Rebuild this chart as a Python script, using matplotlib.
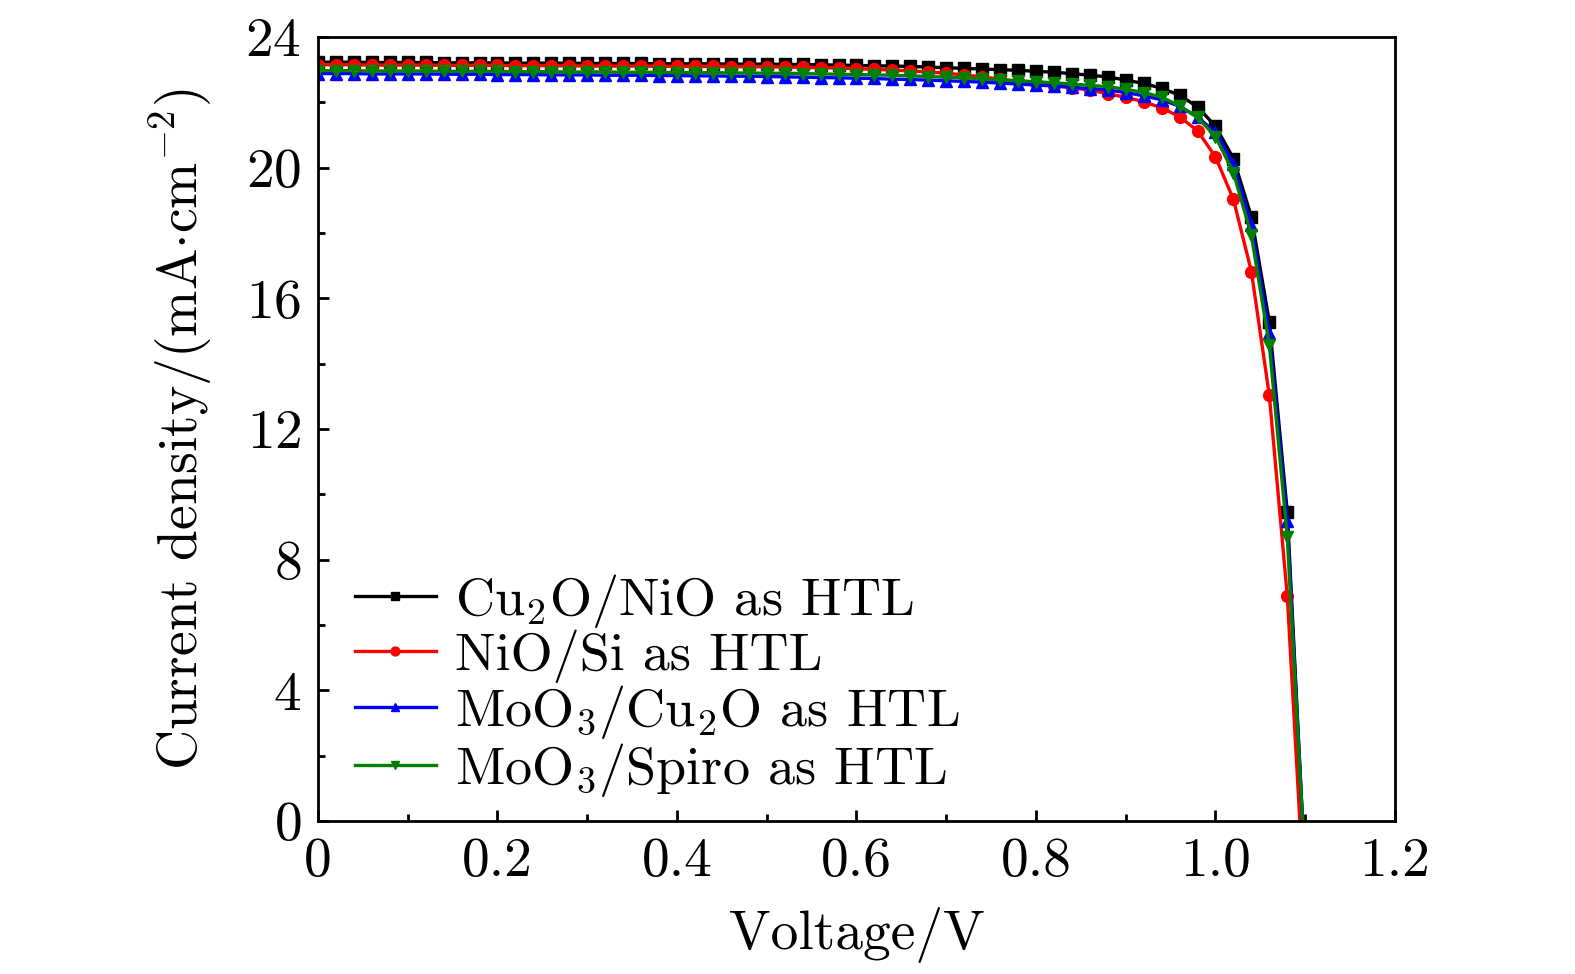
import numpy as np
import matplotlib
matplotlib.use('Agg')
import matplotlib.pyplot as plt
from matplotlib.ticker import MultipleLocator, FixedLocator, FixedFormatter

# =============================================================================
# Datos (J-V, paso de 0.02 V y Voc al final)
# =============================================================================
voltaje = [round(0.02 * i, 2) for i in range(55)]

j_cu2o_nio = [23.23, 23.23, 23.23, 23.22, 23.22, 23.22, 23.22, 23.21, 23.21, 23.21,
              23.21, 23.20, 23.20, 23.20, 23.20, 23.19, 23.19, 23.19, 23.19, 23.18,
              23.18, 23.18, 23.18, 23.17, 23.17, 23.17,
              23.16, 23.16, 23.15, 23.14, 23.13, 23.12, 23.11, 23.10, 23.08, 23.06,
              23.04, 23.02, 23.00, 22.98, 22.95, 22.92, 22.88, 22.83,
              22.78, 22.68, 22.58, 22.43, 22.22, 21.86, 21.27, 20.28, 18.50, 15.28, 9.46]

j_nio_si = [23.15, 23.15, 23.15, 23.14, 23.14, 23.14, 23.14, 23.13, 23.13, 23.13,
            23.13, 23.12, 23.12, 23.12, 23.12, 23.11, 23.11, 23.11, 23.11, 23.10,
            23.10, 23.10, 23.10, 23.09, 23.09, 23.09,
            23.08, 23.07, 23.06, 23.05, 23.03, 23.01, 22.99, 22.96, 22.93, 22.89,
            22.84, 22.78, 22.71, 22.64, 22.58, 22.51, 22.45, 22.37,
            22.27, 22.15, 22.02, 21.83, 21.56, 21.13, 20.33, 19.03, 16.82, 13.03, 6.89]

j_moo3_cu2o = [22.88, 22.88, 22.88, 22.87, 22.87, 22.87, 22.87, 22.86, 22.86, 22.86,
               22.85, 22.85, 22.85, 22.84, 22.84, 22.84, 22.83, 22.83, 22.83, 22.82,
               22.82, 22.81, 22.81, 22.80, 22.80, 22.79,
               22.78, 22.77, 22.76, 22.75, 22.74, 22.73, 22.71, 22.70, 22.68, 22.66,
               22.64, 22.62, 22.59, 22.56, 22.53, 22.50, 22.46, 22.42,
               22.38, 22.30, 22.20, 22.08, 21.88, 21.55, 21.08, 20.12, 18.24, 14.95, 9.18]

j_moo3_spiro = [22.97, 22.97, 22.97, 22.96, 22.96, 22.96, 22.96, 22.95, 22.95, 22.95,
                22.95, 22.94, 22.94, 22.94, 22.93, 22.93, 22.93, 22.92, 22.92, 22.92,
                22.91, 22.91, 22.91, 22.90, 22.90, 22.89,
                22.89, 22.88, 22.87, 22.86, 22.85, 22.84, 22.83, 22.81, 22.79, 22.77,
                22.75, 22.72, 22.69, 22.66, 22.63, 22.60, 22.56, 22.52,
                22.48, 22.40, 22.30, 22.16, 21.89, 21.54, 20.95, 19.85, 17.93, 14.57, 8.69]

# tensión de circuito abierto (J = 0) de cada curva
voc = [1.097, 1.094, 1.097, 1.097]

etiquetas = [r'Cu$_2$O/NiO as HTL', r'NiO/Si as HTL',
             r'MoO$_3$/Cu$_2$O as HTL', r'MoO$_3$/Spiro as HTL']
colores = ['black', 'red', 'blue', 'green']
marcadores = ['s', 'o', '^', 'v']

# =============================================================================
# Estilo
# =============================================================================
plt.rcParams['font.family'] = 'serif'
plt.rcParams['font.serif'] = ['cmr10']
plt.rcParams['mathtext.fontset'] = 'cm'
plt.rcParams['axes.formatter.use_mathtext'] = True
plt.rcParams['axes.unicode_minus'] = False

FS = 40

fig = plt.figure(figsize=(15.75, 9.74), dpi=100)
ax = fig.add_axes([0.2019, 0.1571, 0.6838, 0.8049])

series = [j_cu2o_nio, j_nio_si, j_moo3_cu2o, j_moo3_spiro]
for j, v0, lab, c, m in zip(series, voc, etiquetas, colores, marcadores):
    x = voltaje + [v0]
    y = j + [0.0]
    ax.plot(x, y, color=c, marker=m, markersize=8.5, linewidth=2.4,
            markevery=list(range(len(j))), label=lab)

ax.set_xlim(0, 1.2)
ax.set_ylim(0, 24)

ax.xaxis.set_major_locator(FixedLocator([0, 0.2, 0.4, 0.6, 0.8, 1.0, 1.2]))
ax.xaxis.set_major_formatter(FixedFormatter(['0', '0.2', '0.4', '0.6', '0.8', '1.0', '1.2']))
ax.xaxis.set_minor_locator(MultipleLocator(0.1))
ax.yaxis.set_major_locator(MultipleLocator(4))
ax.yaxis.set_minor_locator(MultipleLocator(2))

ax.tick_params(which='both', direction='in', top=False, right=False, width=2)
ax.tick_params(which='major', length=8, labelsize=FS, pad=12)
ax.tick_params(which='minor', length=5)
for s in ax.spines.values():
    s.set_linewidth(2)

ax.set_xlabel('Voltage/V', fontsize=FS, labelpad=14)
ax.set_ylabel(r'Current density/(mA$\cdot$cm$^{-2}$)', fontsize=FS, labelpad=22)

ax.legend(loc='lower left', bbox_to_anchor=(0.014, 0.0), frameon=False,
          fontsize=39, handlelength=1.5, handletextpad=0.35, labelspacing=0.0,
          markerscale=0.75, borderaxespad=0.0)

fig.savefig('out.png', dpi=100)
